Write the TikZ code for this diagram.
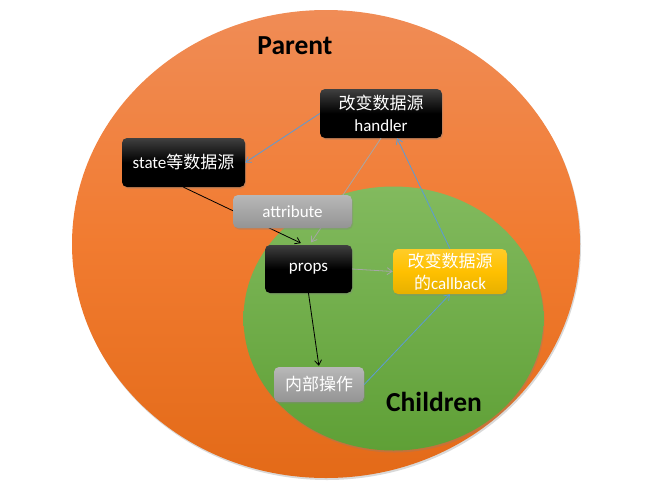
\documentclass[tikz,border=0pt]{standalone}
\usepackage{fontspec}
\setmainfont{Carlito}
\newfontfamily\cjk{Noto Sans CJK SC}
\usetikzlibrary{arrows.meta,shadows,calc}
\definecolor{orTop}{HTML}{F08C56}
\definecolor{orMid}{HTML}{F17B30}
\definecolor{orBot}{HTML}{E36A18}
\definecolor{grTop}{HTML}{82BA5E}
\definecolor{grBot}{HTML}{5FA036}
\definecolor{lnBlue}{HTML}{5B9BD5}
\definecolor{lnGrey}{HTML}{A6A6A6}
\tikzset{
  box/.style={rounded corners=5pt, inner sep=0pt, align=center, text=white,
    font=\fontsize{17}{22}\selectfont,
    drop shadow={shadow xshift=1pt, shadow yshift=-1.5pt, opacity=0.35}},
  blackbox/.style={box, top color=black!75, bottom color=black, middle color=black},
  greybox/.style={box, top color=black!28, bottom color=black!42},
  yellowbox/.style={box, top color={rgb,255:red,255;green,204;blue,40}, bottom color={rgb,255:red,230;green,176;blue,0}, middle color={rgb,255:red,255;green,192;blue,0}},
  tip/.style={-{Straight Barb[length=5pt,width=7pt]}, line width=0.8pt},
  bluearrow/.style={tip, draw=lnBlue},
  greyarrow/.style={tip, draw=lnGrey},
  blackarrow/.style={tip, draw=black},
  title/.style={font=\fontsize{27.5}{30}\selectfont\bfseries, text=black}
}
\begin{document}
\begin{tikzpicture}[x=1pt,y=-1pt]
\useasboundingbox (0,0) rectangle (651,496);
% ellipses
\shade[top color=orTop, bottom color=orBot, middle color=orMid,
  drop shadow={shadow xshift=1pt, shadow yshift=-2pt, opacity=0.3}]
  (326,244) ellipse [x radius=254, y radius=234];
\shade[top color=grTop, bottom color=grBot,
  drop shadow={shadow xshift=1pt, shadow yshift=-2pt, opacity=0.3}]
  (393.5,318.5) ellipse [x radius=150, y radius=132];
\node[title] (parent) at (295,46) {Parent};
\node[title] (children) at (434,402) {Children};
% nodes
\node[blackbox, minimum width=122pt, minimum height=49pt] (handler) at (381,113.5) {{\cjk 改变数据源}\\handler};
\node[blackbox, minimum width=123pt, minimum height=49pt] (state) at (183.5,162.5) {state{\cjk 等数据源}};
\node[blackbox, minimum width=87pt, minimum height=48pt] (props) at (308.5,269) {props};
\node[yellowbox, minimum width=114pt, minimum height=45pt] (callback) at (450,271.5) {{\cjk 改变数据源}\\{\cjk 的}callback};
\node[greybox, minimum width=90pt, minimum height=35pt] (inner) at (319,384.5) {\cjk 内部操作};
% connectors behind attribute
\draw[blackarrow, shorten >=4pt] (state.south) -- ($(props.north)+(-4,0)$);
\draw[greyarrow, shorten >=3pt] (handler.south) -- ($(props.north)+(1,0)$);
\node[greybox, minimum width=119pt, minimum height=33pt] (attr) at (292.5,211.5) {attribute};
\draw[bluearrow] (handler.west) -- (state.east);
\draw[greyarrow] (props.east) -- (callback.west);
\draw[blackarrow, shorten >=1pt] (props.south) -- (inner.north);
\draw[bluearrow] (inner.east) -- (callback.south);
\draw[bluearrow] (callback.north) -- ($(handler.south)+(16,0)$);
\end{tikzpicture}
\end{document}
